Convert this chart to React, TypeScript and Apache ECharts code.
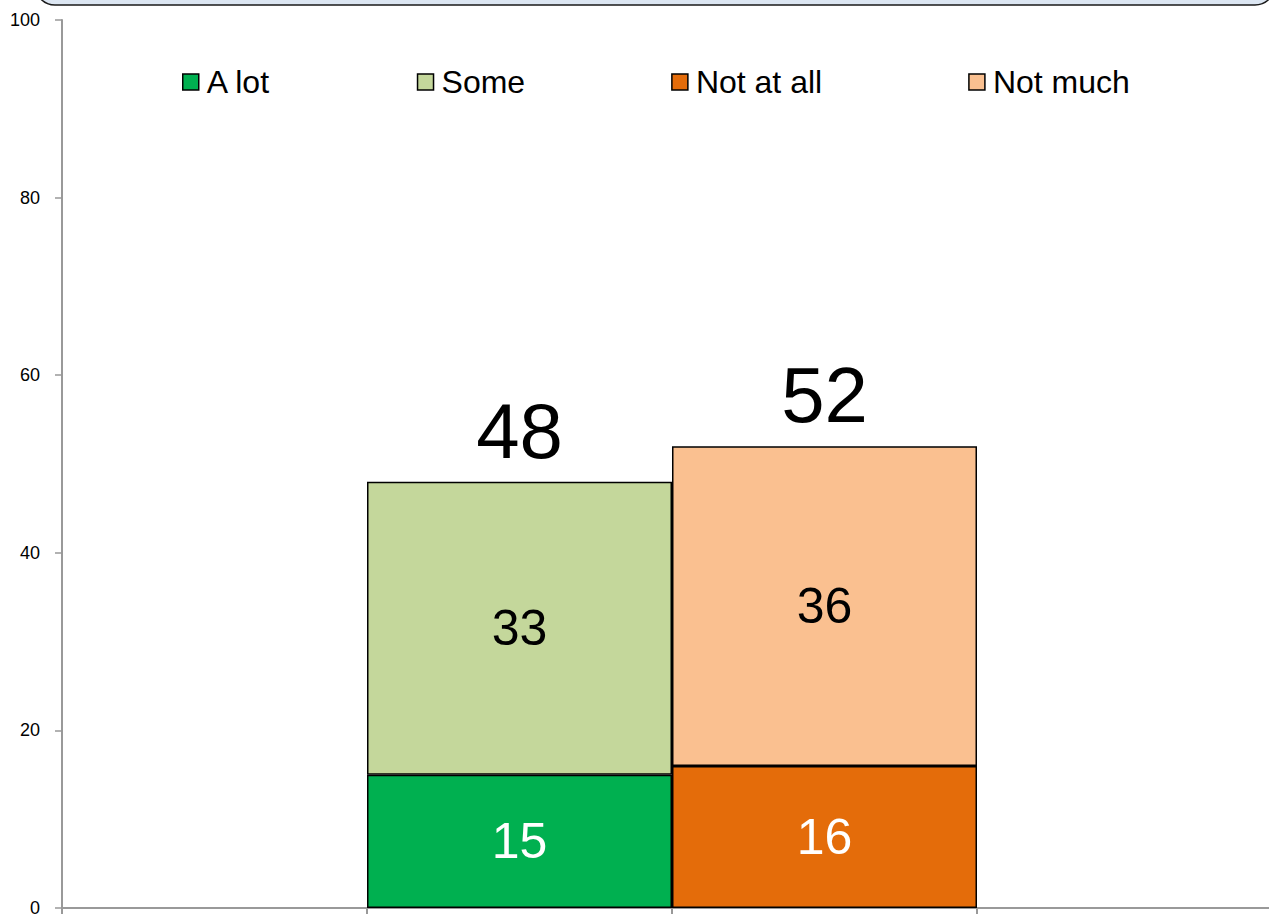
import React, { useEffect, useRef } from "react";
import * as echarts from "echarts";

const categories = ["", "Yes", "No", " "];
const aLot = [null, 15, null, null];
const some = [null, 33, null, null];
const notAtAll = [null, null, 16, null];
const notMuch = [null, null, 36, null];
const totals = [null, 48, 52, null];
const yTicks = [0, 20, 40, 60, 80, 100];

const FONT = "'Liberation Sans', Arial, sans-serif";

export default function App() {
  const ref = useRef<HTMLDivElement>(null);
  useEffect(() => {
    if (!ref.current) return;
    const chart = echarts.init(ref.current, null, { renderer: "svg" });
    const inner = (color: string) => ({
      show: true,
      position: "inside",
      fontSize: 50,
      fontFamily: FONT,
      color,
      formatter: (p: any) => (p.value == null ? "" : String(p.value)),
    });
    const border = { borderColor: "#000", borderWidth: 1.5 };
    chart.setOption({
      animation: false,
      textStyle: { fontFamily: FONT },
      graphic: [
        {
          type: "rect",
          shape: { x: 35, y: -40, width: 1240, height: 45, r: 20 },
          style: { fill: "#dce6f2", stroke: "#1a1a1a", lineWidth: 1.5 },
          z: 100,
        },
      ],
      legend: {
        data: ["A lot", "Some", "Not at all", "Not much"],
        left: 177,
        top: 61,
        itemWidth: 16,
        itemHeight: 16,
        itemGap: 146,
        icon: "rect",
        itemStyle: { borderColor: "#000", borderWidth: 1.5 },
        textStyle: { fontSize: 32, fontFamily: FONT, color: "#000", padding: [0, 0, 0, 3] },
      },
      grid: {
        left: 62,
        top: 20,
        width: 1220,
        height: 888,
        containLabel: false,
        outerBoundsMode: "none",
      },
      xAxis: {
        type: "category",
        data: categories,
        axisLine: { lineStyle: { color: "#999", width: 2 } },
        axisTick: { show: true, length: 6, lineStyle: { color: "#999", width: 2 } },
        axisLabel: { show: false },
        splitLine: { show: false },
      },
      yAxis: {
        type: "value",
        min: yTicks[0],
        max: yTicks[yTicks.length - 1],
        interval: 20,
        axisLine: { show: true, lineStyle: { color: "#999", width: 2 } },
        axisTick: { show: true, length: 7, lineStyle: { color: "#999", width: 1.5 } },
        axisLabel: { fontSize: 18, color: "#000", margin: 22, fontFamily: FONT },
        splitLine: { show: false },
      },
      series: [
        {
          name: "A lot",
          type: "bar",
          stack: "s",
          barWidth: "100%",
          barCategoryGap: "0%",
          data: aLot,
          itemStyle: { color: "#00b050", ...border },
          label: inner("#fff"),
        },
        {
          name: "Some",
          type: "bar",
          stack: "s",
          data: some,
          itemStyle: { color: "#c4d79b", ...border },
          label: inner("#000"),
        },
        {
          name: "Not at all",
          type: "bar",
          stack: "s",
          data: notAtAll,
          itemStyle: { color: "#e46c0a", ...border },
          label: inner("#fff"),
        },
        {
          name: "Not much",
          type: "bar",
          stack: "s",
          data: notMuch,
          itemStyle: { color: "#fac090", ...border },
          label: inner("#000"),
        },
        {
          name: "Total",
          type: "bar",
          stack: "s",
          data: totals.map((t) => (t == null ? null : 0)),
          itemStyle: { color: "transparent", borderWidth: 0 },
          label: {
            show: true,
            position: "top",
            distance: 12,
            fontSize: 78,
            fontFamily: FONT,
            color: "#000",
            formatter: (p: any) => (totals[p.dataIndex] == null ? "" : String(totals[p.dataIndex])),
          },
        },
      ],
    });
    return () => chart.dispose();
  }, []);
  return (
    <div
      ref={ref}
      style={{ position: "absolute", left: 0, top: 0, width: 1269, height: 914, background: "#fff" }}
    />
  );
}
